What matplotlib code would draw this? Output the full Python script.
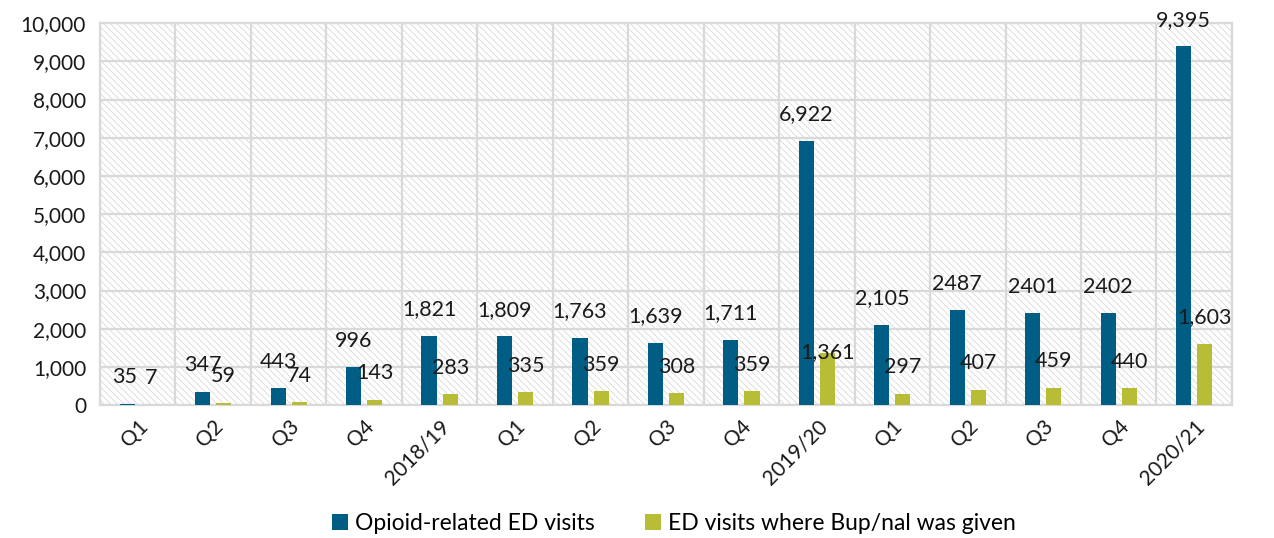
import matplotlib
matplotlib.use("Agg")
import matplotlib.pyplot as plt
import numpy as np
from matplotlib.patches import Rectangle
from matplotlib.ticker import FuncFormatter, FixedLocator

categories = ["Q1", "Q2", "Q3", "Q4", "2018/19", "Q1", "Q2", "Q3", "Q4", "2019/20",
              "Q1", "Q2", "Q3", "Q4", "2020/21"]
opioid_visits = [35, 347, 443, 996, 1821, 1809, 1763, 1639, 1711, 6922, 2105, 2487, 2401, 2402, 9395]
bupnal_visits = [7, 59, 74, 143, 283, 335, 359, 308, 359, 1361, 297, 407, 459, 440, 1603]
opioid_labels = ["35", "347", "443", "996", "1,821", "1,809", "1,763", "1,639", "1,711", "6,922",
                 "2,105", "2487", "2401", "2402", "9,395"]
bupnal_labels = ["7", "59", "74", "143", "283", "335", "359", "308", "359", "1,361",
                 "297", "407", "459", "440", "1,603"]
series_names = ["Opioid-related ED visits", "ED visits where Bup/nal was given"]

plt.rcParams['font.family'] = ['Lato', 'DejaVu Sans']
plt.rcParams['hatch.color'] = '#d2d2d2'
plt.rcParams['hatch.linewidth'] = 0.5

BLUE = '#005e85'
GREEN = '#b7bd34'
GRID = '#d9d9d9'

fig = plt.figure(figsize=(12.74, 5.38), dpi=100)
ax = fig.add_axes([0.0785, 0.247, 0.8885, 0.710])

x = np.arange(len(categories))
w = 0.2
off = 0.14

# hatched background
ax.add_patch(Rectangle((0, 0), 1, 1, transform=ax.transAxes, facecolor='white',
                       edgecolor='#d2d2d2', hatch='\\\\\\\\\\', linewidth=0, zorder=0))

b1 = ax.bar(x - off, opioid_visits, width=w, color=BLUE, zorder=3, label=series_names[0])
b2 = ax.bar(x + off, bupnal_visits, width=w, color=GREEN, zorder=3, label=series_names[1])

for i, (xi, v, lab) in enumerate(zip(x, opioid_visits, opioid_labels)):
    dx = -2 if i == 0 else 0
    ax.annotate(lab, (xi - off, v), xytext=(dx, 19), textcoords='offset points',
                ha='center', va='center', fontsize=15.5, color='#1a1a1a', zorder=5)
for i, (xi, v, lab) in enumerate(zip(x, bupnal_visits, bupnal_labels)):
    dy = 19 if i != 9 else 1
    dx = 2 if i == 0 else 0
    ax.annotate(lab, (xi + off, v), xytext=(dx, dy), textcoords='offset points',
                ha='center', va='center', fontsize=15.5, color='#1a1a1a', zorder=5)

ax.set_xlim(-0.5, len(categories) - 0.5)
ax.set_ylim(0, 10000)
ax.set_yticks(np.arange(0, 10001, 1000))
ax.yaxis.set_major_formatter(FuncFormatter(lambda v, p: f"{int(v):,}"))
ax.set_xticks(x)
ax.set_xticklabels(categories, rotation=45, ha='right', rotation_mode='anchor')
ax.xaxis.set_minor_locator(FixedLocator(np.arange(-0.5, len(categories), 1.0)))

ax.grid(axis='y', which='major', color=GRID, linewidth=1.6, zorder=1)
ax.grid(axis='x', which='minor', color=GRID, linewidth=1.6, zorder=1)
ax.grid(axis='x', which='major', visible=False)
ax.set_axisbelow(True)

ax.tick_params(axis='both', which='both', length=0, labelsize=15, colors='#1a1a1a')
ax.tick_params(axis='y', pad=10)
ax.tick_params(axis='x', pad=8)
for s in ax.spines.values():
    s.set_color(GRID)
    s.set_linewidth(1.6)

leg = fig.legend(handles=[b1, b2], loc='center', bbox_to_anchor=(0.529, 0.027), ncol=2,
                 frameon=False, fontsize=16.5, handlelength=0.7, handleheight=0.7,
                 handletextpad=0.3, columnspacing=2.2)

fig.savefig("out.png", dpi=100)
